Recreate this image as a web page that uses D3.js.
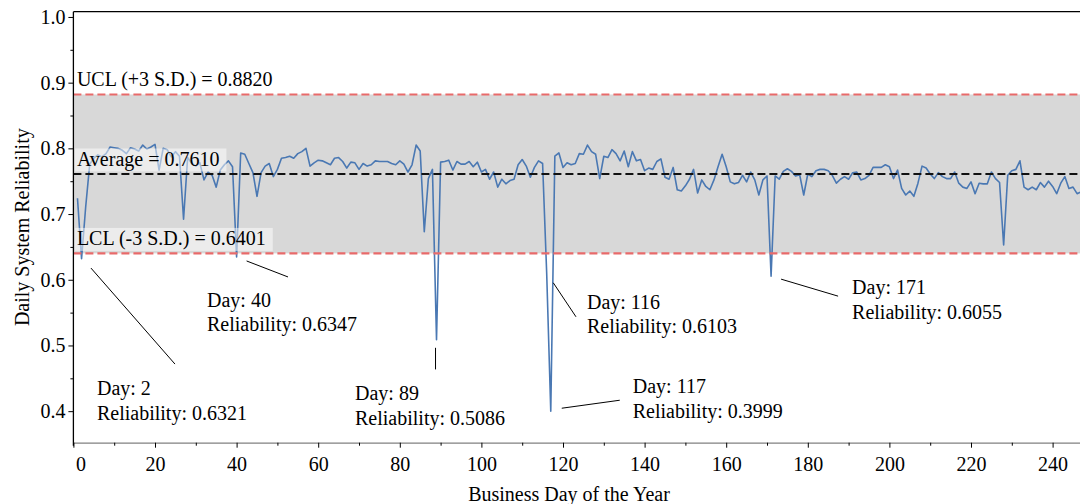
<!DOCTYPE html>
<html>
<head>
<meta charset="utf-8">
<script src="https://cdn.jsdelivr.net/npm/d3@7"></script>
<style>
  html, body { margin: 0; padding: 0; background: #fff; }
  svg { display: block; font-family: "Liberation Serif", "Times New Roman", serif; }
</style>
</head>
<body>
<svg id="chart" width="1080" height="504"></svg>
<script>
// Business days 1..247 and the daily system reliability for each
const days = d3.range(1, 248);
const reliability = [
  0.724, 0.6321, 0.710, 0.776, 0.785, 0.790, 0.787, 0.792, 0.802, 0.801,
  0.800, 0.797, 0.792, 0.801, 0.799, 0.796, 0.805, 0.799, 0.802, 0.806,
  0.767, 0.800, 0.798, 0.787, 0.795, 0.788, 0.692, 0.786, 0.777, 0.773,
  0.778, 0.752, 0.764, 0.759, 0.741, 0.767, 0.775, 0.781, 0.772, 0.6347,
  0.793, 0.791, 0.777, 0.763, 0.727, 0.763, 0.773, 0.777, 0.757, 0.768,
  0.785, 0.786, 0.788, 0.785, 0.792, 0.795, 0.800, 0.773, 0.778, 0.782,
  0.781, 0.778, 0.775, 0.785, 0.786, 0.780, 0.770, 0.779, 0.778, 0.768,
  0.777, 0.773, 0.775, 0.781, 0.780, 0.780, 0.780, 0.777, 0.775, 0.781,
  0.776, 0.764, 0.775, 0.805, 0.796, 0.673, 0.754, 0.768, 0.5086, 0.779,
  0.780, 0.782, 0.767, 0.780, 0.776, 0.776, 0.780, 0.772, 0.779, 0.764,
  0.768, 0.753, 0.764, 0.741, 0.753, 0.746, 0.751, 0.753, 0.775, 0.783,
  0.773, 0.756, 0.771, 0.781, 0.777, 0.6103, 0.3999, 0.788, 0.793, 0.771,
  0.778, 0.775, 0.777, 0.792, 0.791, 0.805, 0.795, 0.791, 0.754, 0.788,
  0.786, 0.798, 0.792, 0.781, 0.796, 0.772, 0.795, 0.781, 0.783, 0.766,
  0.770, 0.768, 0.780, 0.784, 0.756, 0.753, 0.771, 0.737, 0.735, 0.743,
  0.753, 0.768, 0.732, 0.752, 0.742, 0.737, 0.752, 0.772, 0.791, 0.772,
  0.749, 0.746, 0.748, 0.759, 0.749, 0.764, 0.752, 0.729, 0.752, 0.758,
  0.6055, 0.758, 0.753, 0.765, 0.769, 0.765, 0.758, 0.760, 0.729, 0.761,
  0.757, 0.766, 0.768, 0.768, 0.766, 0.759, 0.747, 0.753, 0.757, 0.753,
  0.763, 0.764, 0.752, 0.754, 0.759, 0.771, 0.771, 0.771, 0.775, 0.772,
  0.754, 0.767, 0.739, 0.729, 0.735, 0.727, 0.747, 0.773, 0.770, 0.761,
  0.754, 0.763, 0.757, 0.754, 0.754, 0.764, 0.747, 0.741, 0.739, 0.749,
  0.731, 0.747, 0.746, 0.746, 0.764, 0.754, 0.748, 0.653, 0.759, 0.766,
  0.768, 0.781, 0.741, 0.737, 0.741, 0.737, 0.748, 0.741, 0.750, 0.742,
  0.731, 0.747, 0.757, 0.739, 0.741, 0.731, 0.734
];

// Control limits
const averageValue = 0.7610;
const uclValue = 0.8820;
const lclValue = 0.6401;

// Axis ticks
const xTicks = d3.range(0, 241, 20);
const xMinorTicks = d3.range(10, 241, 20);
const yTicks = [0.4, 0.5, 0.6, 0.7, 0.8, 0.9, 1.0];
const yMinorTicks = [0.45, 0.55, 0.65, 0.75, 0.85, 0.95];

// Days called out with a label
const flaggedDays = [2, 40, 89, 116, 117, 171];

const series = days.map((d, i) => ({ day: d, value: reliability[i] }));

const svg = d3.select("#chart");
const W = 1080, H = 504;
const plotLeft = 73.4, plotTop = 11.7, plotBottom = 442.7;
const pxPerDay = 4.08;

const x = d3.scaleLinear().domain([0, 247]).range([plotLeft, plotLeft + 247 * pxPerDay]);
const y = d3.scaleLinear().domain([0.352, 1.008]).range([plotBottom, plotTop]);

const FONT = 20;

// clip to plot area
svg.append("defs").append("clipPath").attr("id", "plotClip")
  .append("rect").attr("x", plotLeft).attr("y", plotTop)
  .attr("width", W - plotLeft).attr("height", plotBottom - plotTop);

// control band
svg.append("rect")
  .attr("x", plotLeft).attr("width", W - plotLeft)
  .attr("y", y(uclValue)).attr("height", y(lclValue) - y(uclValue))
  .attr("fill", "#d8d8d8");

// data line
const line = d3.line().x(d => x(d.day)).y(d => y(d.value));
svg.append("path")
  .datum(series)
  .attr("clip-path", "url(#plotClip)")
  .attr("fill", "none")
  .attr("stroke", "#4a78b3")
  .attr("stroke-width", 1.6)
  .attr("stroke-linejoin", "round")
  .attr("d", line);

// limit lines
const limits = [
  { value: uclValue, color: "#e86a6a", text: "UCL (+3 S.D.) = " + uclValue.toFixed(4) },
  { value: averageValue, color: "#111", text: "Average = " + averageValue.toFixed(4) },
  { value: lclValue, color: "#e86a6a", text: "LCL (-3 S.D.) = " + lclValue.toFixed(4) }
];

limits.forEach(l => {
  svg.append("line")
    .attr("x1", plotLeft).attr("x2", W)
    .attr("y1", y(l.value)).attr("y2", y(l.value))
    .attr("stroke", l.color)
    .attr("stroke-width", 2.2)
    .attr("stroke-dasharray", "8,4");
});

limits.forEach(l => {
  const baseline = y(l.value) - 8;
  const g = svg.append("g");
  const box = g.append("rect").attr("fill", "#ffffff").attr("fill-opacity", 0.5);
  const t = g.append("text")
    .attr("x", plotLeft + 3.5).attr("y", baseline)
    .attr("font-size", FONT).attr("fill", "#000")
    .text(l.text);
  const w = t.node().getComputedTextLength();
  box.attr("x", plotLeft + 1.5).attr("y", baseline - 17.5)
    .attr("width", w + 9).attr("height", 23);
});

// annotations: leader line and two-line label, offsets in px from the point
const annotationLayout = {
  2:   { s: [9.4, 9.4],  e: [93.4, 105.4], t: [15.4, 136.4] },
  40:  { s: [10, 4],     e: [51.4, 20],    t: [-29.6, 50] },
  89:  { s: [-1, 8],     e: [-1, 29.6],    t: [-81.5, 60.3] },
  116: { s: [6.6, 9.8],  e: [29.3, 43.8],  t: [40.3, 36] },
  117: { s: [11, -3],    e: [69, -11],     t: [82, -18] },
  171: { s: [10, 3],     e: [67, 20],      t: [81, 18] }
};

flaggedDays.forEach(d => {
  const p = series.find(s => s.day === d);
  const px = x(p.day), py = y(p.value);
  const a = annotationLayout[d];
  svg.append("line")
    .attr("x1", px + a.s[0]).attr("y1", py + a.s[1])
    .attr("x2", px + a.e[0]).attr("y2", py + a.e[1])
    .attr("stroke", "#000").attr("stroke-width", 1);
  const t = svg.append("text")
    .attr("x", px + a.t[0]).attr("y", py + a.t[1])
    .attr("font-size", FONT).attr("fill", "#000");
  t.append("tspan").attr("x", px + a.t[0]).text("Day: " + p.day);
  t.append("tspan").attr("x", px + a.t[0]).attr("dy", 24.5)
    .text("Reliability: " + p.value.toFixed(4));
});

// top frame
svg.append("line")
  .attr("x1", plotLeft).attr("x2", W).attr("y1", plotTop).attr("y2", plotTop)
  .attr("stroke", "#000").attr("stroke-width", 1.2);

// y axis
const yAxis = svg.append("g").attr("transform", `translate(${plotLeft},0)`)
  .call(d3.axisLeft(y).tickValues(yTicks).tickFormat(d3.format(".1f"))
    .tickSize(5).tickPadding(3).tickSizeOuter(0));
yAxis.select(".domain").attr("stroke", "#000").attr("stroke-width", 1.3)
  .attr("d", `M0,${plotTop}V${plotBottom + 3}`);
yAxis.selectAll("text").attr("font-size", FONT).attr("fill", "#000")
  .attr("font-family", "Liberation Serif, Times New Roman, serif");
svg.append("g").attr("transform", `translate(${plotLeft},0)`)
  .call(d3.axisLeft(y).tickValues(yMinorTicks).tickFormat("").tickSize(3).tickSizeOuter(0))
  .select(".domain").remove();

// x axis
const xAxis = svg.append("g").attr("transform", `translate(0,${plotBottom})`)
  .call(d3.axisBottom(x).tickValues(xTicks).tickFormat(d3.format("d"))
    .tickSize(5).tickPadding(9).tickSizeOuter(0));
xAxis.select(".domain").attr("stroke", "#808080").attr("stroke-width", 1.3);
xAxis.selectAll("text").attr("font-size", FONT).attr("fill", "#000")
  .attr("font-family", "Liberation Serif, Times New Roman, serif");
xAxis.selectAll(".tick").filter(d => d === 0).select("text").attr("dx", 7);
svg.append("g").attr("transform", `translate(0,${plotBottom})`)
  .call(d3.axisBottom(x).tickValues(xMinorTicks).tickFormat("").tickSize(3).tickSizeOuter(0))
  .select(".domain").remove();

// axis titles
svg.append("text")
  .attr("transform", `translate(29,${(plotTop + plotBottom) / 2}) rotate(-90)`)
  .attr("text-anchor", "middle")
  .attr("font-size", FONT).attr("fill", "#000")
  .text("Daily System Reliability");

svg.append("text")
  .attr("x", 569).attr("y", 501)
  .attr("text-anchor", "middle")
  .attr("font-size", FONT).attr("fill", "#000")
  .text("Business Day of the Year");
</script>
</body>
</html>
